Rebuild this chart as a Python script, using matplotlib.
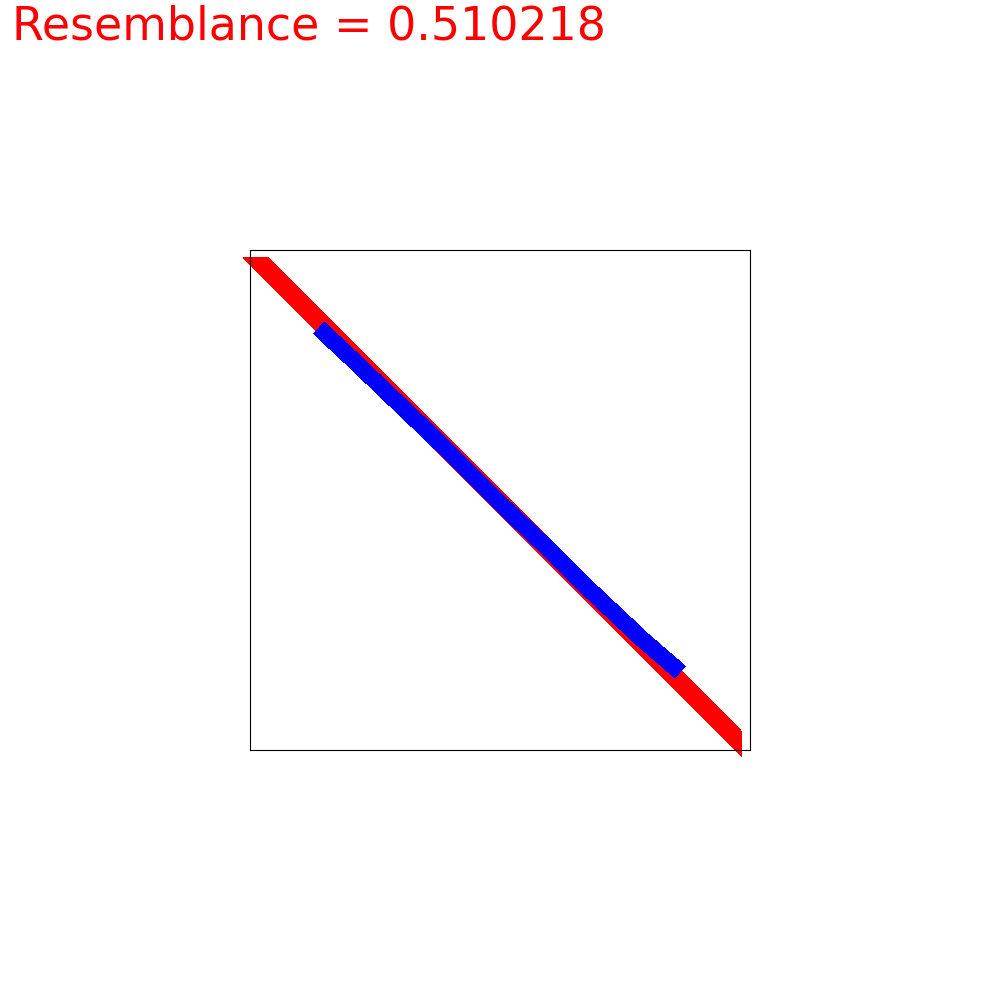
import matplotlib
matplotlib.use("Agg")
import matplotlib.pyplot as plt

# score shown at the top
resemblance = 0.510218

# red reference stroke: centre line end points and half width (data units)
red_x = [0.011, 0.984]
red_y = [0.986, 0.011]
red_half = 0.025

# blue drawn stroke
blue_x = [0.138, 0.200, 0.380, 0.510, 0.580, 0.686, 0.786, 0.860]
blue_y = [0.844, 0.786, 0.614, 0.484, 0.418, 0.314, 0.220, 0.156]

fig = plt.figure(figsize=(10, 10), dpi=100)
ax = fig.add_axes([0.25, 0.25, 0.5, 0.5])
ax.set_xlim(0, 1)
ax.set_ylim(0, 1)
ax.set_xticks([])
ax.set_yticks([])
for s in ax.spines.values():
    s.set_linewidth(0.8)

# red band: flat top end, vertical bottom end
px = [red_x[0] - red_half, red_x[0] + red_half, red_x[1], red_x[1]]
py = [red_y[0], red_y[0], red_y[1] + red_half, red_y[1] - red_half]
ax.fill(px, py, color="red", lw=0, clip_on=False, antialiased=False)

ax.plot(blue_x, blue_y, color="blue", lw=11.2, solid_capstyle="butt",
        solid_joinstyle="round", clip_on=False, antialiased=False)

fig.text(0.012, 0.995, "Resemblance = %.6f" % resemblance, color="red",
         fontsize=33, ha="left", va="top")

fig.savefig("out.png", dpi=100)
